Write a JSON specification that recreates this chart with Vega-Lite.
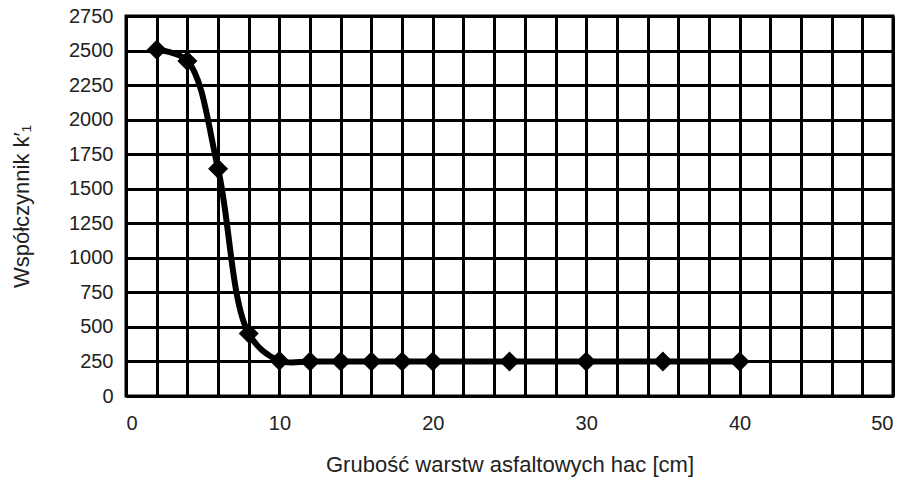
{
  "$schema": "https://vega.github.io/schema/vega-lite/v6.json",
  "autosize": "none",
  "padding": {"left": 126, "top": 16, "right": 11, "bottom": 90},
  "width": 767,
  "height": 380,
  "background": "white",
  "config": {
    "view": {"stroke": "black", "strokeWidth": 3},
    "font": "Liberation Sans"
  },
  "data": {
    "values": [
      {"h": 2, "k": 2505},
      {"h": 4, "k": 2425},
      {"h": 6, "k": 1645},
      {"h": 8, "k": 452},
      {"h": 10, "k": 255},
      {"h": 12, "k": 250},
      {"h": 14, "k": 250},
      {"h": 16, "k": 250},
      {"h": 18, "k": 250},
      {"h": 20, "k": 250},
      {"h": 25, "k": 250},
      {"h": 30, "k": 250},
      {"h": 35, "k": 250},
      {"h": 40, "k": 250}
    ]
  },
  "encoding": {
    "x": {
      "field": "h",
      "type": "quantitative",
      "scale": {"domain": [0, 50], "nice": false, "zero": false},
      "axis": {
        "values": [0,2,4,6,8,10,12,14,16,18,20,22,24,26,28,30,32,34,36,38,40,42,44,46,48,50],
        "labelExpr": "datum.value % 10 == 0 ? datum.label : ''",
        "grid": true,
        "gridColor": "black",
        "gridWidth": 3,
        "gridOpacity": 1,
        "domainColor": "black",
        "domainWidth": 3,
        "ticks": false,
        "labelPadding": 17,
        "labelFontSize": 20,
        "labelColor": "#222",
        "labelFont": "Liberation Sans",
        "title": "Grubość warstw asfaltowych hac [cm]",
        "titleFont": "Liberation Sans",
        "titleFontSize": 22,
        "titleFontWeight": "normal",
        "titleColor": "#222",
        "titlePadding": 21
      }
    },
    "y": {
      "field": "k",
      "type": "quantitative",
      "scale": {"domain": [0, 2750], "nice": false},
      "axis": {
        "values": [0,250,500,750,1000,1250,1500,1750,2000,2250,2500,2750],
        "format": "d",
        "grid": true,
        "gridColor": "black",
        "gridWidth": 3,
        "gridOpacity": 1,
        "domainColor": "black",
        "domainWidth": 3,
        "ticks": false,
        "labelPadding": 13,
        "labelFontSize": 20,
        "labelColor": "#222",
        "labelFont": "Liberation Sans",
        "title": "Współczynnik k′₁",
        "titleFont": "Liberation Sans",
        "titleFontSize": 22,
        "titleFontWeight": "normal",
        "titleColor": "#222",
        "titlePadding": 35
      }
    }
  },
  "layer": [
    {
      "mark": {"type": "line", "interpolate": "catmull-rom", "color": "black", "strokeWidth": 6}
    },
    {
      "mark": {"type": "point", "shape": "diamond", "filled": true, "color": "black", "opacity": 1, "size": 400}
    }
  ]
}
